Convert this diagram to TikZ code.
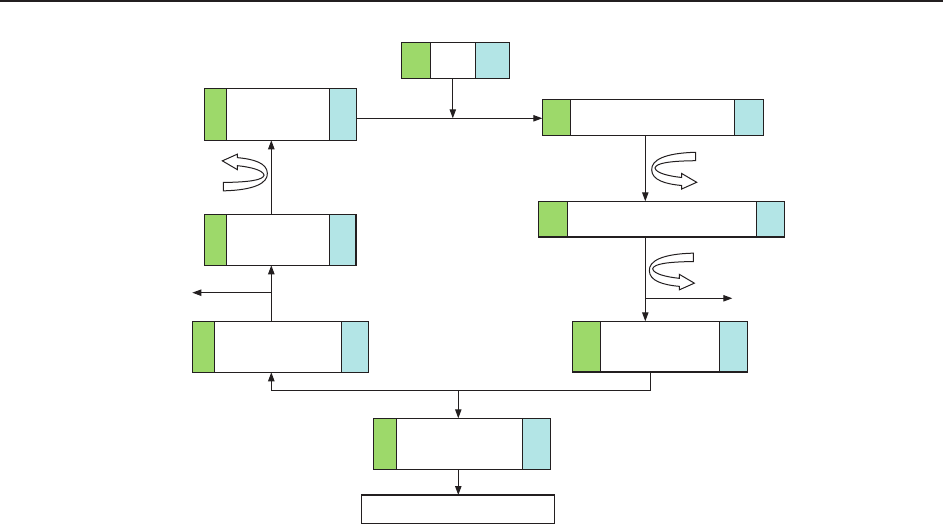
\documentclass[tikz,border=0pt]{standalone}
\usetikzlibrary{arrows.meta,calc}
\definecolor{lc}{HTML}{231F20}
\definecolor{gcol}{HTML}{9DD96A}
\definecolor{ccol}{HTML}{B3E5E6}
\tikzset{
  cbox/.style 2 args={draw=lc, line width=0.6pt, inner sep=0pt, outer sep=0pt,
    path picture={
      \fill[gcol] (path picture bounding box.south west) rectangle ([xshift=#1pt]path picture bounding box.north west);
      \fill[ccol] ([xshift=-#2pt]path picture bounding box.south east) rectangle (path picture bounding box.north east);
      \draw[lc, line width=0.6pt] ([xshift=#1pt]path picture bounding box.south west) -- ([xshift=#1pt]path picture bounding box.north west);
      \draw[lc, line width=0.6pt] ([xshift=-#2pt]path picture bounding box.south east) -- ([xshift=-#2pt]path picture bounding box.north east);
    }},
  pbox/.style={draw=lc, line width=0.6pt, inner sep=0pt, outer sep=0pt},
  sz/.style 2 args={minimum width=#1pt, minimum height=#2pt},
  arr/.style={draw=lc, line width=0.5pt, -{Triangle[length=4.5pt,width=3.2pt]}},
  ln/.style={draw=lc, line width=0.5pt},
  curlst/.style={draw=lc, line width=0.5pt, fill=white, line join=miter},
  curl/.pic={
    \path[curlst] (21.5,-18.35) .. controls (-9.2,-17.65) and (-23.2,-10.65) .. (-22.5,-0.65)
      .. controls (-22.2,9.35) and (-9.2,13.35) .. (7.5,14.85) -- (7.5,18.35) -- (22.5,11.65)
      -- (7.5,2.85) -- (7.5,6.85) .. controls (-6.2,5.35) and (-18.2,2.35) .. (-19.2,-2.65)
      .. controls (-18.2,-7.65) and (-4.2,-9.65) .. (21.5,-9.95) -- cycle;
  }
}
\begin{document}
\begin{tikzpicture}[x=0.5pt, y=-0.5pt]
\useasboundingbox (0,0) rectangle (943,524);
\draw[lc, line width=0.8pt] (0,1) -- (943,1);

% boxes
\node[cbox={14.5}{17}, sz={54.2}{18}] (T) at (455.5,60.3) {};
\node[cbox={11}{13.5}, sz={76}{26}] (A) at (280.3,114.3) {};
\node[cbox={14}{14.5}, sz={110.5}{18}] (B) at (652.8,117.3) {};
\node[cbox={14.5}{14}, sz={123}{17.85}] (C) at (661.3,219.15) {};
\node[cbox={14}{14}, sz={87.5}{25.35}] (D) at (659.8,346.65) {};
\node[cbox={10.8}{13.35}, sz={75.65}{25.5}] (E) at (280.35,239.8) {};
\node[cbox={11}{13.7}, sz={88.2}{25.5}] (F) at (280.5,346.8) {};
\node[cbox={11.5}{14.2}, sz={88.7}{25.5}] (G) at (462,443.8) {};
\node[pbox, sz={96.7}{14.35}] (H) at (458,509.35) {};

% helper coordinates
\coordinate (j1) at (452.8,118.3);
\coordinate (xr) at (645.3,0);
\coordinate (j2) at (645.3,298.3);
\coordinate (o2) at (732.3,298.3);
\coordinate (xd) at (650.3,0);
\coordinate (yb) at (0,390.3);
\coordinate (xl) at (271.3,0);
\coordinate (j3) at (271.3,292.7);
\coordinate (o3) at (192.3,292.7);
\coordinate (xm) at (458.3,0);

% connectors
\draw[arr] (T.south -| j1) -- (j1);
\draw[arr] (A.east |- j1) -- (B.west |- j1);
\draw[arr] (B.south -| xr) -- (C.north -| xr);
\draw[arr] (C.south -| xr) -- (D.north -| xr);
\draw[arr] (j2) -- (o2);
\draw[arr] (D.south -| xd) -- (xd |- yb) -- (xl |- yb) -- (F.south -| xl);
\draw[arr] (xm |- yb) -- (G.north -| xm);
\draw[arr] (G.south -| xm) -- (H.north -| xm);
\draw[arr] (F.north -| xl) -- (E.south -| xl);
\draw[arr] (j3) -- (o3);
\draw[arr] (E.north -| xl) -- (A.south -| xl);

% rotation arrows
\pic at (674.2,170.65) {curl};
\pic at (671.85,271.5) {curl};
\pic[rotate=180] at (244.85,172.5) {curl};
\end{tikzpicture}
\end{document}
